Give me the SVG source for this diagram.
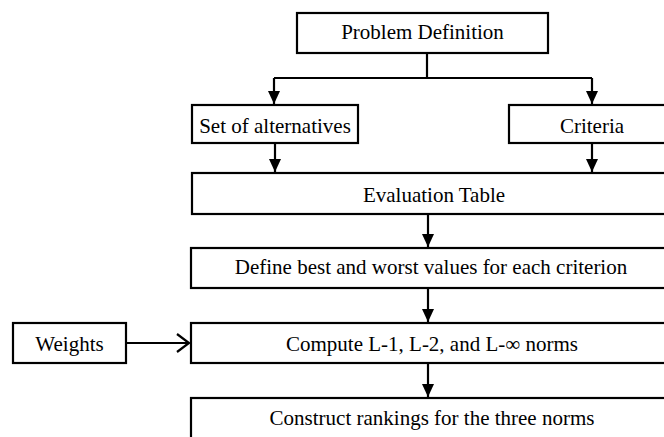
<svg xmlns="http://www.w3.org/2000/svg" width="664" height="437" viewBox="0 0 664 437">
  <style>
    .box { fill: #fff; stroke: #000; stroke-width: 2.2; }
    .lbl { font-family: "Liberation Serif", "Times New Roman", serif; font-size: 21px; fill: #000; text-anchor: middle; }
    .wire { fill: none; stroke: #000; stroke-width: 2.2; }
  </style>
  <defs>
    <!-- filled head, drawn along +x so orient="auto" turns it with the line -->
    <marker id="head" markerUnits="userSpaceOnUse" markerWidth="14" markerHeight="12" viewBox="0 0 14 12" refX="13" refY="6" orient="auto">
      <path d="M0,0 L13,6 L0,12 Z" fill="#000"/>
    </marker>
  </defs>
  <rect width="664" height="437" fill="#fff"/>

  <g id="problem-definition">
    <rect class="box" x="297" y="13" width="251" height="40"/>
    <text class="lbl" x="422.5" y="39">Problem Definition</text>
  </g>
  <g id="set-of-alternatives">
    <rect class="box" x="192" y="105" width="166" height="38"/>
    <text class="lbl" x="275" y="132.5">Set of alternatives</text>
  </g>
  <g id="criteria">
    <rect class="box" x="509" y="105" width="166" height="38"/>
    <text class="lbl" x="592" y="132.5">Criteria</text>
  </g>
  <g id="evaluation-table">
    <rect class="box" x="192" y="173" width="480" height="41"/>
    <text class="lbl" x="434" y="202">Evaluation Table</text>
  </g>
  <g id="define-values">
    <rect class="box" x="191" y="248" width="481" height="40"/>
    <text class="lbl" x="431" y="274">Define best and worst values for each criterion</text>
  </g>
  <g id="weights">
    <rect class="box" x="13" y="323" width="113" height="40"/>
    <text class="lbl" x="69.5" y="351">Weights</text>
  </g>
  <g id="compute-norms">
    <rect class="box" x="191" y="323" width="481" height="40"/>
    <text class="lbl" x="432" y="351">Compute L-1, L-2, and L-∞ norms</text>
  </g>
  <g id="construct-rankings">
    <rect class="box" x="191" y="398" width="481" height="50"/>
    <text class="lbl" x="432" y="425">Construct rankings for the three norms</text>
  </g>

  <g id="connectors">
    <path class="wire" d="M427,53 V78"/>
    <path class="wire" d="M274,78 H592"/>
    <path class="wire" d="M274,78 V104" marker-end="url(#head)"/>
    <path class="wire" d="M592,78 V104" marker-end="url(#head)"/>
    <path class="wire" d="M275,143 V172" marker-end="url(#head)"/>
    <path class="wire" d="M592,143 V172" marker-end="url(#head)"/>
    <path class="wire" d="M428,214 V247" marker-end="url(#head)"/>
    <path class="wire" d="M428,288 V322" marker-end="url(#head)"/>
    <path class="wire" d="M428,363 V397" marker-end="url(#head)"/>
    <path class="wire" d="M126,343 H189"/>
    <path class="wire" d="M177,334 L189,343 L177,352"/>
  </g>
</svg>
